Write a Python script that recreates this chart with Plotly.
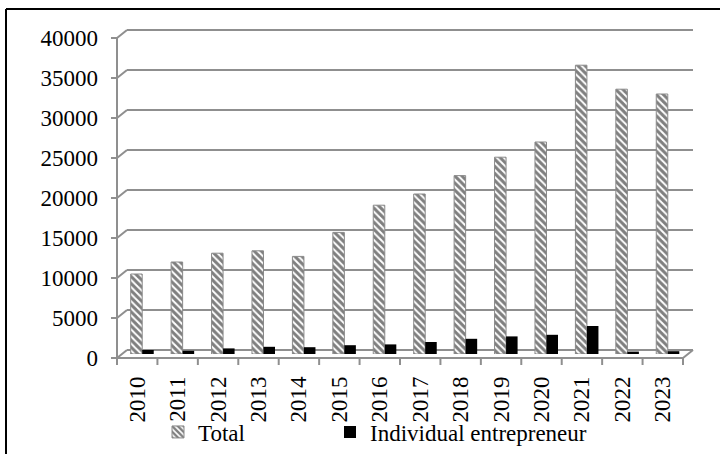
import plotly.graph_objects as go

# Annual counts, 2010-2023
years = ["2010", "2011", "2012", "2013", "2014", "2015", "2016",
         "2017", "2018", "2019", "2020", "2021", "2022", "2023"]
total = [10000, 11500, 12600, 12900, 12200, 15200, 18600,
         20000, 22300, 24600, 26500, 36100, 33100, 32500]
individual = [500, 400, 700, 900, 850, 1100, 1200,
              1500, 1900, 2200, 2400, 3500, 300, 350]
y_ticks = [0, 5000, 10000, 15000, 20000, 25000, 30000, 35000, 40000]

W, H = 720, 454
FONT = "Liberation Serif, Times New Roman, serif"
FS = 23
GRID = "#8f8f8f"

# Plot area sits in the middle depth plane of the pseudo-3D box
X0, X1 = 122, 688          # left / right of the plot area (px)
Y0, Y1 = 354, 34           # pixel rows of y = 0 and y = 40000
YMAX = 40000
DX, DY = 5, 4              # half depth of the box (px)
N = len(years)
CAT_W = (X1 - X0) / N


def px(x):
    return x / W


def py(y):
    return 1 - y / H


def vy(v):
    return Y0 - v / YMAX * (Y0 - Y1)


def cx(c):
    return X0 + (c + 0.5) * CAT_W


def seg(x0, y0, x1, y1, color=GRID, width=2):
    return dict(type="line", xref="paper", yref="paper",
                x0=px(x0), y0=py(y0), x1=px(x1), y1=py(y1),
                line=dict(color=color, width=width), layer="below")


shapes = []
# back wall gridlines and the short connectors to the front axis
for v in y_ticks:
    shapes.append(seg(X0 + DX, vy(v) - DY, X1 + DX, vy(v) - DY))
    shapes.append(seg(X0 - DX, vy(v) + DY, X0 + DX, vy(v) - DY))
    shapes.append(seg(X0 - DX - 6, vy(v) + DY, X0 - DX, vy(v) + DY))
# front value axis
shapes.append(seg(X0 - DX, vy(0) + DY, X0 - DX, vy(YMAX) + DY))
# floor: front edge and right side
shapes.append(seg(X0 - DX, vy(0) + DY, X1 - DX, vy(0) + DY))
shapes.append(seg(X1 - DX, vy(0) + DY, X1 + DX, vy(0) - DY))
# category boundary ticks on the front edge
for k in range(N + 1):
    xb = cx(k - 0.5) - DX
    shapes.append(seg(xb, vy(0) + DY, xb, vy(0) + DY + 7))
# outer chart frame
shapes.append(seg(6, 9, 720, 9, color="#000000", width=2))
shapes.append(seg(6, 9, 6, 454, color="#000000", width=2))

fig = go.Figure()
fig.add_trace(go.Bar(
    x=years, y=total, name="Total", legend="legend",
    marker=dict(color="#ffffff",
                line=dict(color="#8a8a8a", width=1),
                pattern=dict(shape="\\", fgcolor="#000000", bgcolor="#ffffff",
                             size=5, solidity=0.6)),
))
fig.add_trace(go.Bar(
    x=years, y=individual, name="Individual entrepreneur", legend="legend2",
    marker=dict(color="#000000", line=dict(color="#000000", width=0)),
))

legend_common = dict(orientation="h", yanchor="middle", xanchor="left",
                     bgcolor="rgba(0,0,0,0)", itemclick=False,
                     font=dict(family=FONT, size=FS, color="#000000"))

fig.update_layout(
    width=W, height=H,
    margin=dict(l=0, r=0, t=0, b=0, autoexpand=False),
    paper_bgcolor="#ffffff", plot_bgcolor="rgba(0,0,0,0)",
    font=dict(family=FONT, size=FS, color="#000000"),
    barmode="group", bargap=0.43, bargroupgap=0,
    shapes=shapes,
    showlegend=True,
    legend=dict(x=px(158), y=py(432), **legend_common),
    legend2=dict(x=px(330), y=py(432), **legend_common),
    xaxis=dict(domain=[px(X0), px(X1)], range=[-0.5, N - 0.5],
               type="category", showgrid=False, showline=False,
               zeroline=False, ticks="", tickangle=-90,
               ticklabelshift=-DX, ticklabelstandoff=17,
               tickfont=dict(family=FONT, size=FS)),
    yaxis=dict(domain=[py(Y0), py(Y1)], range=[0, YMAX],
               tickvals=y_ticks, ticktext=[str(v) for v in y_ticks],
               showgrid=False, showline=False, zeroline=False, ticks="",
               ticklabelshift=4, ticklabelstandoff=23,
               tickfont=dict(family=FONT, size=FS)),
)

fig.write_html("out.html")
